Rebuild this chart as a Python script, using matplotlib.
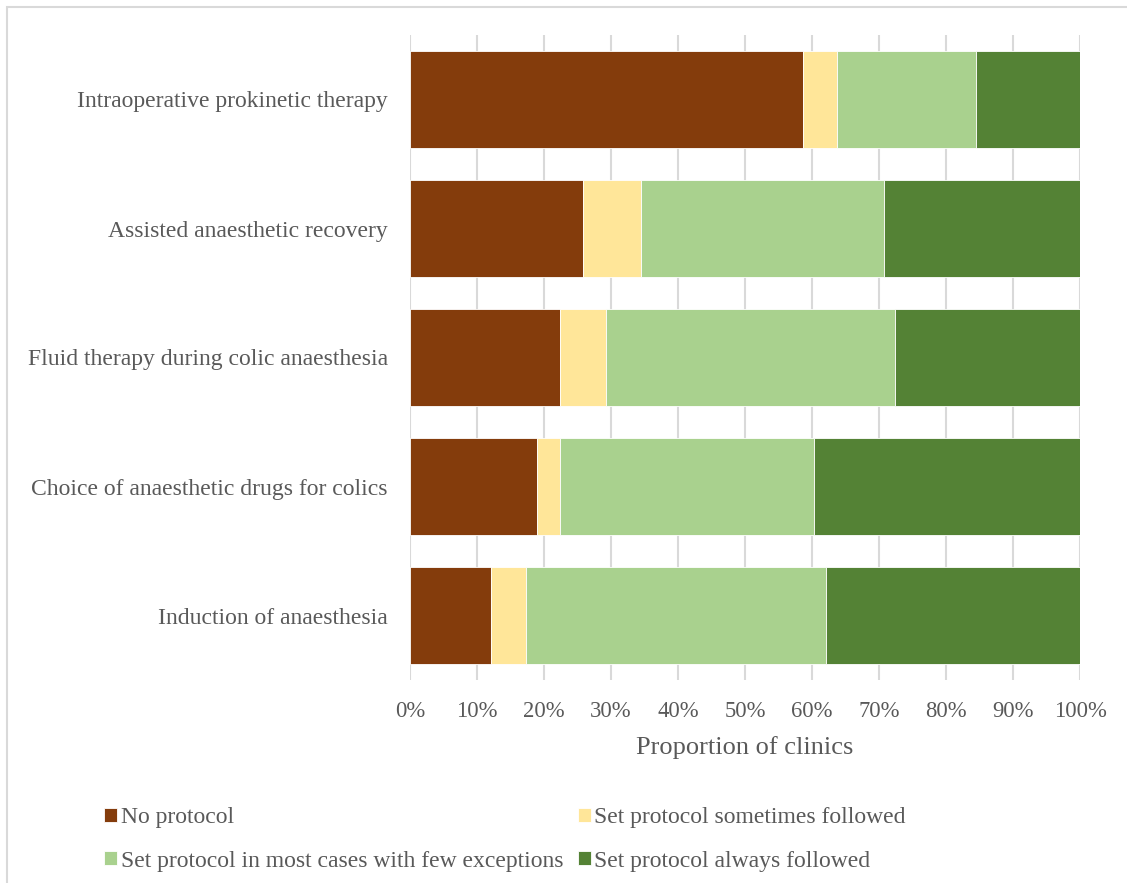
import matplotlib.pyplot as plt
from matplotlib.patches import Rectangle
import numpy as np

# Survey responses (number of clinics out of 58) per anaesthesia topic
categories = [
    "Induction of anaesthesia",
    "Choice of anaesthetic drugs for colics",
    "Fluid therapy during colic anaesthesia",
    "Assisted anaesthetic recovery",
    "Intraoperative prokinetic therapy",
]
n_clinics = 58
no_protocol = [7, 11, 13, 15, 34]
sometimes_followed = [3, 2, 4, 5, 3]
most_cases = [26, 22, 25, 21, 12]
always_followed = [22, 23, 16, 17, 9]

series_labels = [
    "No protocol",
    "Set protocol sometimes followed",
    "Set protocol in most cases with few exceptions",
    "Set protocol always followed",
]
colors = ["#843C0C", "#FFE699", "#A9D18E", "#548235"]
tick_labels = ["0%", "10%", "20%", "30%", "40%", "50%", "60%", "70%", "80%", "90%", "100%"]

plt.rcParams["font.family"] = ["Liberation Serif", "DejaVu Serif"]
text_color = "#595959"

W, H = 1127, 883
fig = plt.figure(figsize=(W / 100, H / 100), dpi=100)

# Outer chart-area border
fig.patches.append(Rectangle((7 / W, -0.1), 1.2, 1 - 7 / H + 0.1, transform=fig.transFigure,
                             fill=False, edgecolor="#D9D9D9", linewidth=1.5))

ax = fig.add_axes([410 / W, 1 - 680 / H, 670 / W, 645 / H])

series = [no_protocol, sometimes_followed, most_cases, always_followed]
y = np.arange(len(categories))
left = np.zeros(len(categories))
handles = []
for vals, lab, col in zip(series, series_labels, colors):
    pct = np.array(vals) / n_clinics * 100
    bars = ax.barh(y, pct, left=left, height=0.75, color=col, label=lab,
                   edgecolor="white", linewidth=0.6, zorder=3)
    handles.append(bars)
    left += pct

ax.set_xlim(0, 100)
ax.set_ylim(-0.5, len(categories) - 0.5)
ax.set_xticks(np.arange(0, 101, 10))
ax.set_xticklabels(tick_labels, fontsize=16.3, color=text_color)
ax.set_yticks(y)
ax.set_yticklabels(categories, fontsize=17, color=text_color)
ax.tick_params(axis="both", length=0)
ax.tick_params(axis="x", pad=15)
ax.tick_params(axis="y", pad=16)
ax.grid(axis="x", color="#D9D9D9", linewidth=1.5, zorder=0)
ax.set_axisbelow(True)
for s in ax.spines.values():
    s.set_visible(False)
ax.set_xlabel("Proportion of clinics", fontsize=19, color=text_color, labelpad=10)

# Legend filled row by row (matplotlib fills column-wise, so reorder)
order = [0, 2, 1, 3]
leg = fig.legend([handles[i] for i in order], [series_labels[i] for i in order],
                 loc="upper left", bbox_to_anchor=(83 / W, 1 - 786 / H),
                 ncol=2, frameon=False, fontsize=17, handlelength=0.55, handleheight=0.55,
                 handletextpad=0.15, columnspacing=0.62, labelspacing=0.95)
for t in leg.get_texts():
    t.set_color(text_color)

fig.savefig("out.png", dpi=100, facecolor="white")
